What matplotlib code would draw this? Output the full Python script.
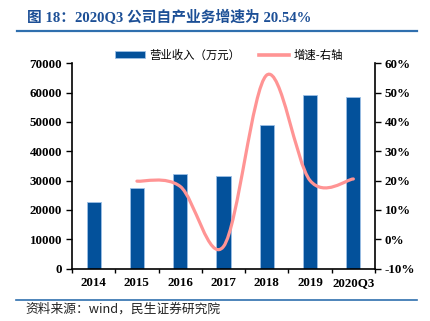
import matplotlib.pyplot as plt
from matplotlib.path import Path
from matplotlib.patches import PathPatch
from matplotlib.lines import Line2D
from matplotlib.ticker import FuncFormatter

# Data: revenue (10k CNY) and YoY growth (%)
years = ['2014', '2015', '2016', '2017', '2018', '2019', '2020Q3']
revenue = [22800, 27300, 32200, 31500, 49000, 59300, 58600]
growth = [None, 19.8, 18.0, -2.5, 56.0, 20.0, 20.54]

BAR_COLOR = '#03519B'
LINE_COLOR = '#FF9494'
BLUE = '#1C4F96'
RULE = '#2F6FAE'

NUM_FONT = ['Liberation Serif', 'Noto Sans CJK SC']
CJK_FONT = ['Noto Sans CJK SC', 'DejaVu Sans']


def smooth_path(xs, ys):
    """Bezier path through the points, Catmull-Rom style like Excel's smoothed lines."""
    pts = list(zip(xs, ys))
    verts = [pts[0]]
    codes = [Path.MOVETO]
    for i in range(len(pts) - 1):
        p0 = pts[i - 1] if i > 0 else pts[i]
        p1 = pts[i]
        p2 = pts[i + 1]
        p3 = pts[i + 2] if i + 2 < len(pts) else pts[i + 1]
        c1 = (p1[0] + (p2[0] - p0[0]) / 6, p1[1] + (p2[1] - p0[1]) / 6)
        c2 = (p2[0] - (p3[0] - p1[0]) / 6, p2[1] - (p3[1] - p1[1]) / 6)
        verts += [c1, c2, p2]
        codes += [Path.CURVE4] * 3
    return Path(verts, codes)


fig = plt.figure(figsize=(4.31, 3.21), dpi=100)
ax = fig.add_axes([72 / 431, 1 - 268.5 / 321, 303 / 431, 205.2 / 321])

x = list(range(len(years)))
bars = ax.bar(x, revenue, width=0.33, color=BAR_COLOR, edgecolor='#9CC0E6',
              linewidth=0.6, label='营业收入（万元）', zorder=2)
ax.set_xlim(-0.5, len(years) - 0.5)
ax.set_ylim(0, 70000)
ax.set_yticks(range(0, 70001, 10000))
ax.set_xticks(x)
ax.set_xticklabels(years)
ax.set_xticks([i - 0.5 for i in range(len(years) + 1)], minor=True)
ax.tick_params(axis='x', which='major', length=0, pad=6)
ax.tick_params(axis='x', which='minor', length=3, direction='out', width=1)
ax.tick_params(axis='y', length=4, width=1, direction='out', pad=3)
for s in ['top', 'right']:
    ax.spines[s].set_visible(False)
for s in ['left', 'bottom']:
    ax.spines[s].set_linewidth(1.2)

ax2 = ax.twinx()
ax2.set_ylim(-10, 60)
ax2.set_yticks(range(-10, 61, 10))
ax2.yaxis.set_major_formatter(FuncFormatter(lambda v, p: f'{int(v)}%'))
ax2.tick_params(axis='y', length=4, width=1, direction='out', pad=3)
for s in ['top', 'left', 'bottom']:
    ax2.spines[s].set_visible(False)
ax2.spines['right'].set_linewidth(1.2)

gx = [i for i, g in enumerate(growth) if g is not None]
gy = [g for g in growth if g is not None]
ax2.add_patch(PathPatch(smooth_path(gx, gy), facecolor='none', edgecolor=LINE_COLOR,
                        linewidth=2.3, capstyle='round', zorder=3))

for lab in ax.get_xticklabels() + ax.get_yticklabels() + ax2.get_yticklabels():
    lab.set_fontfamily(NUM_FONT)
    lab.set_fontweight('bold')
    lab.set_fontsize(9.4)

# Legend
handles = [bars, Line2D([0], [0], color=LINE_COLOR, linewidth=2.6)]
fig.legend(handles, ['营业收入（万元）', '增速-右轴'], loc='center',
           bbox_to_anchor=(229 / 431, 1 - 55 / 321), ncol=2, frameon=False,
           prop={'family': CJK_FONT, 'size': 8.2}, handlelength=2.6,
           handleheight=0.5, handletextpad=0.4, columnspacing=1.7)

# Title and rules
fig.text(27 / 431, 1 - 18 / 321, '图 18：2020Q3 公司自产业务增速为 20.54%',
         color=BLUE, fontsize=10.6, fontweight='bold', family=NUM_FONT,
         ha='left', va='center')
fig.add_artist(Line2D([17 / 431, 417 / 431], [1 - 30.5 / 321] * 2,
                      transform=fig.transFigure, color=RULE, linewidth=1.6))
fig.add_artist(Line2D([16 / 431, 417 / 431], [1 - 300 / 321] * 2,
                      transform=fig.transFigure, color=RULE, linewidth=1.2))
fig.text(25 / 431, 1 - 309 / 321, '资料来源：wind，民生证券研究院', color='#222222',
         fontsize=9.2, family=CJK_FONT, ha='left', va='center')

fig.savefig('out.png', dpi=100)
